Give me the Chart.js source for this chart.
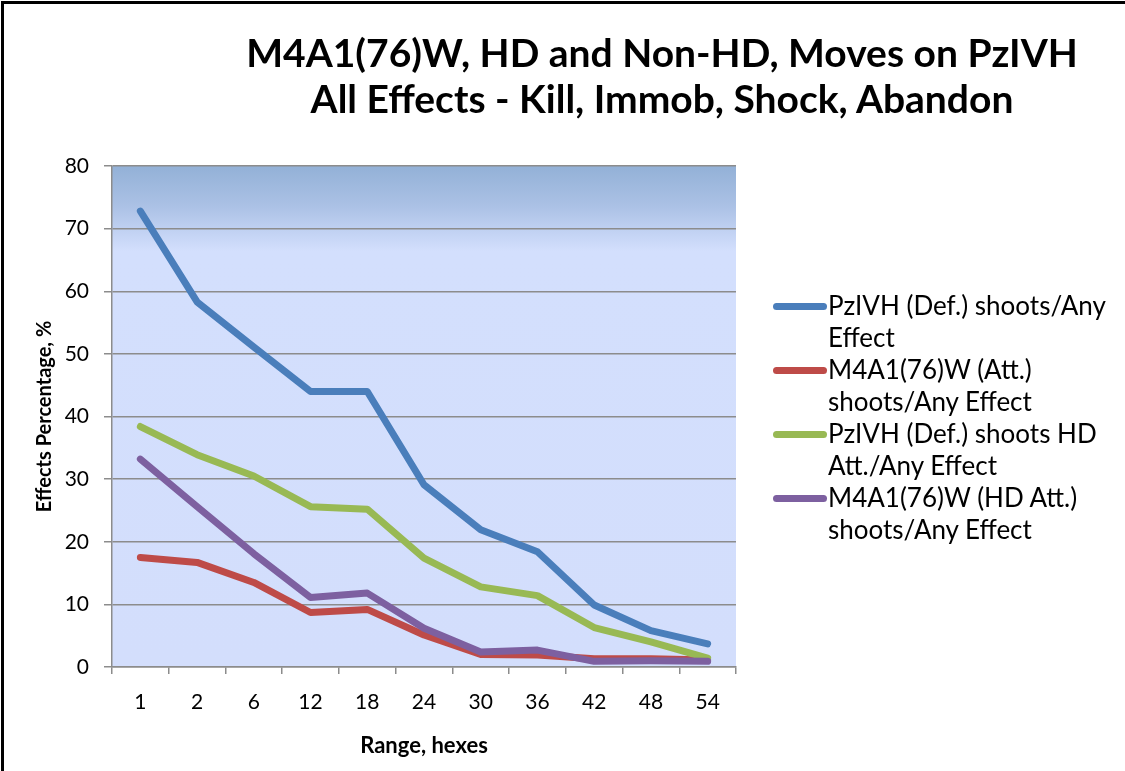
<!DOCTYPE html>
<html><head><meta charset="utf-8">
<script src="https://cdn.jsdelivr.net/npm/chart.js@4.4.0/dist/chart.umd.min.js"></script>
<style>
html,body{margin:0;padding:0;background:#fff;overflow:hidden}
#wrap{position:relative;width:1125px;height:771px;overflow:hidden}
#topbar{position:absolute;left:1px;top:1px;width:1124px;height:3px;background:#000}
#leftbar{position:absolute;left:1px;top:1px;width:3px;height:770px;background:#000}
#title{position:absolute;left:162px;width:1000px;top:29px;text-align:center;font-family:Lato,sans-serif;font-weight:bold;font-size:39px;line-height:46px;color:#000;white-space:nowrap}
#legend{position:absolute;left:773px;top:289px;font-family:Lato,sans-serif;font-size:26px;line-height:32px;color:#000;white-space:nowrap}
.item{position:relative;padding-left:55px}
.swatch{position:absolute;left:0;top:14px;width:54px;height:7px;border-radius:4px}
canvas{position:absolute;left:0;top:0}
</style>
</head><body>
<div id="wrap">
<div id="topbar"></div>
<div id="leftbar"></div>
<canvas id="c" width="1125" height="771"></canvas>
<div id="title"></div>
<div id="legend"></div>
</div>
<script>
const TITLE_LINES = ["M4A1(76)W, HD and Non-HD, Moves on PzIVH", "All Effects - Kill, Immob, Shock, Abandon"];
const CATEGORIES = ["1", "2", "6", "12", "18", "24", "30", "36", "42", "48", "54"];
const Y_TICKS = [0, 10, 20, 30, 40, 50, 60, 70, 80];
const X_TITLE = "Range, hexes";
const Y_TITLE = "Effects Percentage, %";

const LABEL_PZ_ANY = ["PzIVH (Def.) shoots/Any", "Effect"];
const LABEL_M4_ANY = ["M4A1(76)W (Att.)", "shoots/Any Effect"];
const LABEL_PZ_HD = ["PzIVH (Def.) shoots HD", "Att./Any Effect"];
const LABEL_M4_HD = ["M4A1(76)W (HD Att.)", "shoots/Any Effect"];

const PZ_ANY = [72.8, 58.3, 51.1, 44.0, 44.0, 29.1, 21.9, 18.4, 9.9, 5.8, 3.7];
const M4_ANY = [17.5, 16.7, 13.5, 8.7, 9.2, 5.1, 2.0, 1.9, 1.3, 1.3, 1.1];
const PZ_HD  = [38.4, 33.9, 30.5, 25.6, 25.2, 17.4, 12.8, 11.4, 6.3, 4.0, 1.4];
const M4_HD  = [33.2, 25.6, 18.1, 11.1, 11.8, 6.2, 2.4, 2.7, 0.9, 1.0, 0.9];

const COLORS = ["#4a7ebb", "#be4b48", "#98b954", "#7d60a0"];

const SERIES = [
  {label: LABEL_PZ_ANY, data: PZ_ANY},
  {label: LABEL_M4_ANY, data: M4_ANY},
  {label: LABEL_PZ_HD, data: PZ_HD},
  {label: LABEL_M4_HD, data: M4_HD}
];

document.getElementById('title').innerHTML = TITLE_LINES.map(t => '<div>' + t + '</div>').join('');

const legend = document.getElementById('legend');
SERIES.forEach((s, i) => {
  const it = document.createElement('div');
  it.className = 'item';
  const sw = document.createElement('div');
  sw.className = 'swatch';
  sw.style.background = COLORS[i];
  it.appendChild(sw);
  s.label.forEach(l => { const d = document.createElement('div'); d.textContent = l; it.appendChild(d); });
  legend.appendChild(it);
});

const bgPlugin = {
  id: 'plotBg',
  beforeDraw(chart) {
    const {ctx, chartArea: a} = chart;
    const g = ctx.createLinearGradient(0, a.top, 0, a.bottom);
    g.addColorStop(0, '#93b1d7');
    g.addColorStop(0.08, '#abc1e5');
    g.addColorStop(0.17, '#d3dffd');
    g.addColorStop(1, '#d3defc');
    ctx.save();
    ctx.fillStyle = g;
    ctx.fillRect(a.left, a.top, a.right - a.left, a.bottom - a.top);
    ctx.restore();
  }
};

Chart.defaults.font.family = 'Lato, sans-serif';
Chart.defaults.color = '#000';

new Chart(document.getElementById('c'), {
  type: 'line',
  data: {
    labels: CATEGORIES,
    datasets: SERIES.map((s, i) => ({
      label: s.label.join(' '),
      data: s.data,
      borderColor: COLORS[i],
      backgroundColor: COLORS[i],
      borderWidth: 7,
      borderCapStyle: 'round',
      borderJoinStyle: 'round',
      pointRadius: 0,
      tension: 0,
      fill: false,
      order: SERIES.length - i
    }))
  },
  options: {
    responsive: false,
    animation: false,
    devicePixelRatio: 1,
    layout: {padding: {left: 0, top: 166, right: 389, bottom: 0}},
    plugins: {legend: {display: false}, tooltip: {enabled: false}, title: {display: false}},
    scales: {
      x: {
        offset: true,
        grid: {offset: true, drawOnChartArea: false, drawTicks: true, tickLength: 7, color: '#8c8c8c', lineWidth: 1.5},
        border: {color: '#8c8c8c', width: 1.5},
        ticks: {font: {size: 21}, padding: 16, color: '#000'},
        title: {display: true, text: X_TITLE, font: {size: 22, weight: 'bold'}, padding: {top: 0, bottom: 12}, color: '#000'},
        afterFit(s) { s.height = 104; }
      },
      y: {
        min: 0, max: 80,
        afterBuildTicks(s) { s.ticks = Y_TICKS.map(v => ({value: v})); },
        grid: {drawTicks: true, tickLength: 8, color: '#8c8c8c', lineWidth: 1.5},
        border: {color: '#8c8c8c', width: 1.5},
        ticks: {font: {size: 21}, padding: 15, color: '#000'},
        title: {display: true, text: Y_TITLE, font: {size: 20, weight: 'bold'}, padding: {top: 33, bottom: 0}, color: '#000'},
        afterFit(s) { s.width = 112; }
      }
    }
  },
  plugins: [bgPlugin]
});
</script>
</body></html>
